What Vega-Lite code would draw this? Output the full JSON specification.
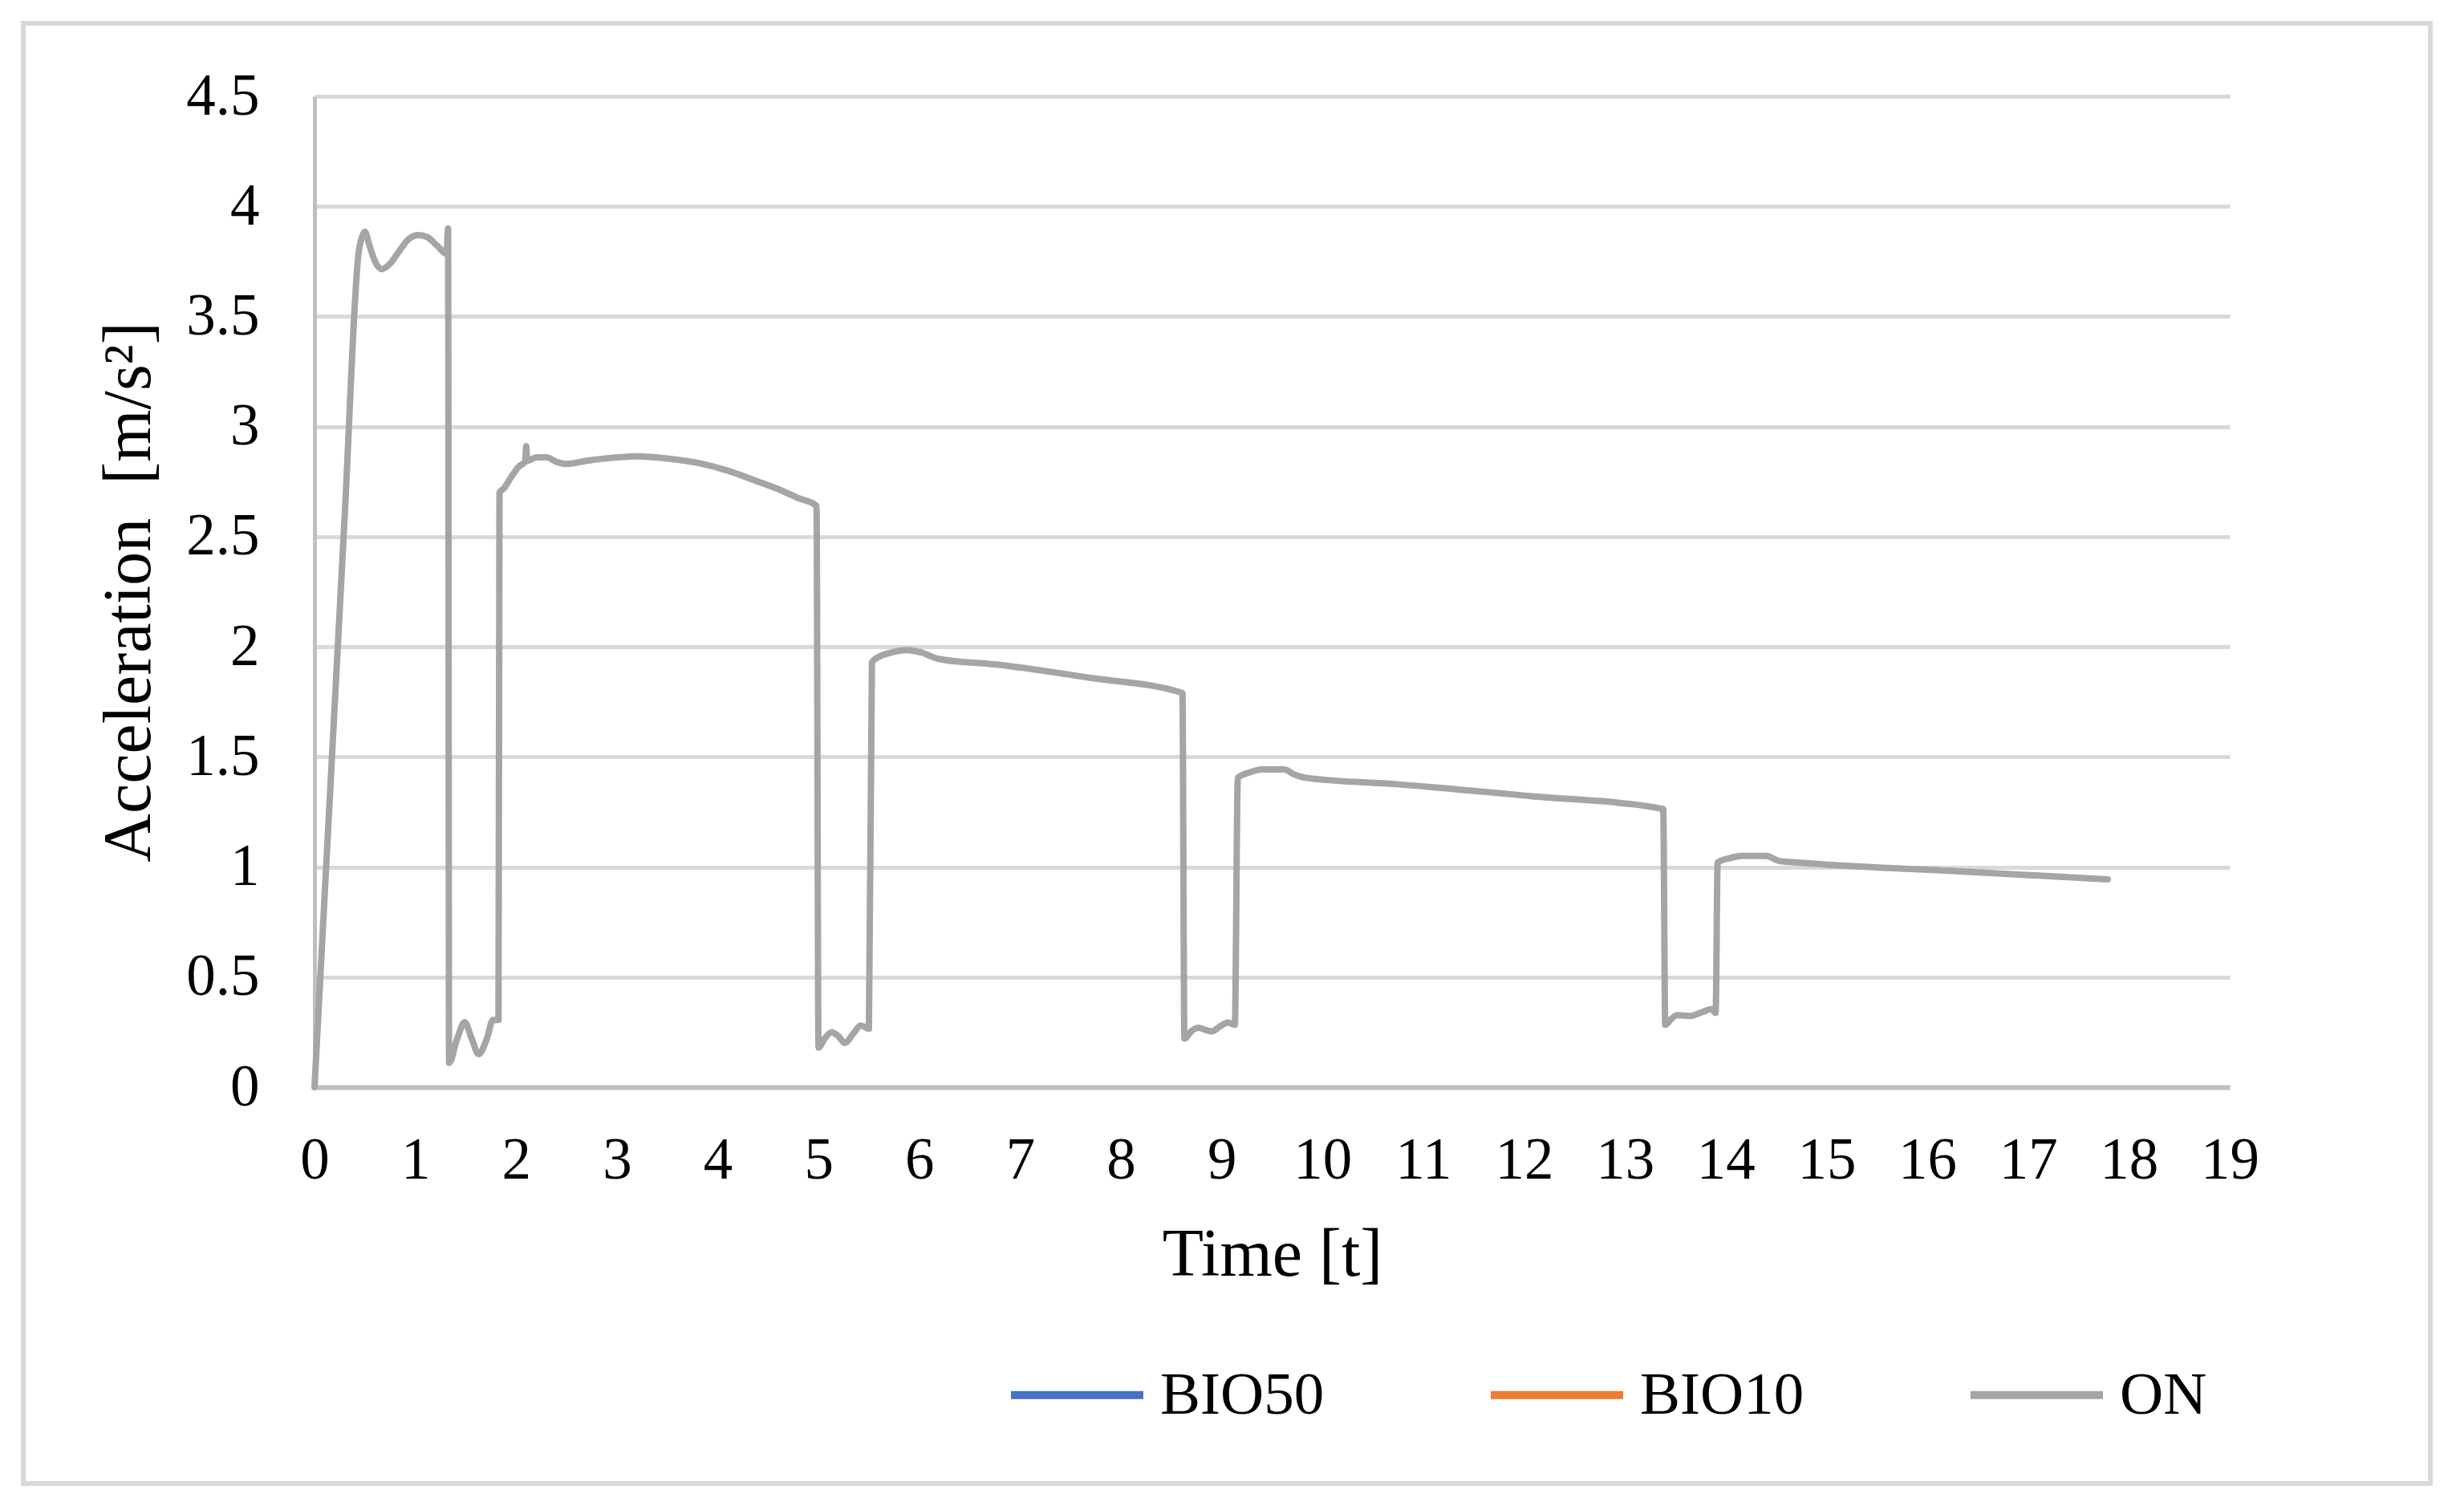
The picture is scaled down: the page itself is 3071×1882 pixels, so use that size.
{
  "$schema": "https://vega.github.io/schema/vega-lite/v6.json",
  "width": 3000,
  "height": 1820,
  "autosize": {"type": "none"},
  "padding": {"left": 29, "top": 29, "right": 42, "bottom": 33},
  "background": "white",
  "config": {
    "view": {"stroke": "#d9d9d9", "strokeWidth": 6},
    "font": "Liberation Serif"
  },
  "data": {
    "values": [
      {"t": 0, "a": 0, "s": "ON"},
      {"t": 0.15, "a": 1.3, "s": "ON"},
      {"t": 0.3, "a": 2.6, "s": "ON"},
      {"t": 0.44, "a": 3.8, "s": "ON"},
      {"t": 0.47, "a": 3.86, "s": "ON"},
      {"t": 0.5, "a": 3.885, "s": "ON"},
      {"t": 0.54, "a": 3.83, "s": "ON"},
      {"t": 0.6, "a": 3.75, "s": "ON"},
      {"t": 0.67, "a": 3.715, "s": "ON"},
      {"t": 0.75, "a": 3.74, "s": "ON"},
      {"t": 0.83, "a": 3.79, "s": "ON"},
      {"t": 0.93, "a": 3.85, "s": "ON"},
      {"t": 1.03, "a": 3.87, "s": "ON"},
      {"t": 1.12, "a": 3.86, "s": "ON"},
      {"t": 1.22, "a": 3.82, "s": "ON"},
      {"t": 1.31, "a": 3.785, "s": "ON"},
      {"t": 1.325, "a": 3.9, "s": "ON"},
      {"t": 1.335, "a": 0.11, "s": "ON"},
      {"t": 1.415, "a": 0.22, "s": "ON"},
      {"t": 1.49, "a": 0.295, "s": "ON"},
      {"t": 1.56, "a": 0.22, "s": "ON"},
      {"t": 1.627, "a": 0.15, "s": "ON"},
      {"t": 1.71, "a": 0.22, "s": "ON"},
      {"t": 1.77, "a": 0.305, "s": "ON"},
      {"t": 1.825, "a": 0.305, "s": "ON"},
      {"t": 1.835, "a": 2.7, "s": "ON"},
      {"t": 1.88, "a": 2.72, "s": "ON"},
      {"t": 1.95, "a": 2.77, "s": "ON"},
      {"t": 2.03, "a": 2.82, "s": "ON"},
      {"t": 2.09, "a": 2.84, "s": "ON"},
      {"t": 2.1, "a": 2.91, "s": "ON"},
      {"t": 2.11, "a": 2.845, "s": "ON"},
      {"t": 2.2, "a": 2.86, "s": "ON"},
      {"t": 2.3, "a": 2.86, "s": "ON"},
      {"t": 2.4, "a": 2.84, "s": "ON"},
      {"t": 2.5, "a": 2.83, "s": "ON"},
      {"t": 2.7, "a": 2.845, "s": "ON"},
      {"t": 3.0, "a": 2.86, "s": "ON"},
      {"t": 3.2, "a": 2.865, "s": "ON"},
      {"t": 3.5, "a": 2.855, "s": "ON"},
      {"t": 3.8, "a": 2.835, "s": "ON"},
      {"t": 4.1, "a": 2.8, "s": "ON"},
      {"t": 4.4, "a": 2.75, "s": "ON"},
      {"t": 4.63, "a": 2.71, "s": "ON"},
      {"t": 4.8, "a": 2.675, "s": "ON"},
      {"t": 4.98, "a": 2.64, "s": "ON"},
      {"t": 5.0, "a": 0.18, "s": "ON"},
      {"t": 5.06, "a": 0.22, "s": "ON"},
      {"t": 5.13, "a": 0.25, "s": "ON"},
      {"t": 5.2, "a": 0.23, "s": "ON"},
      {"t": 5.26, "a": 0.2, "s": "ON"},
      {"t": 5.34, "a": 0.24, "s": "ON"},
      {"t": 5.42, "a": 0.28, "s": "ON"},
      {"t": 5.5, "a": 0.265, "s": "ON"},
      {"t": 5.53, "a": 1.93, "s": "ON"},
      {"t": 5.6, "a": 1.955, "s": "ON"},
      {"t": 5.69, "a": 1.97, "s": "ON"},
      {"t": 5.88, "a": 1.985, "s": "ON"},
      {"t": 6.01, "a": 1.975, "s": "ON"},
      {"t": 6.19, "a": 1.945, "s": "ON"},
      {"t": 6.75, "a": 1.92, "s": "ON"},
      {"t": 7.68, "a": 1.86, "s": "ON"},
      {"t": 8.61, "a": 1.79, "s": "ON"},
      {"t": 8.63, "a": 0.22, "s": "ON"},
      {"t": 8.7, "a": 0.255, "s": "ON"},
      {"t": 8.77, "a": 0.27, "s": "ON"},
      {"t": 8.84, "a": 0.26, "s": "ON"},
      {"t": 8.9, "a": 0.253, "s": "ON"},
      {"t": 8.98, "a": 0.275, "s": "ON"},
      {"t": 9.06, "a": 0.293, "s": "ON"},
      {"t": 9.13, "a": 0.283, "s": "ON"},
      {"t": 9.16, "a": 1.405, "s": "ON"},
      {"t": 9.28, "a": 1.43, "s": "ON"},
      {"t": 9.4, "a": 1.443, "s": "ON"},
      {"t": 9.62, "a": 1.443, "s": "ON"},
      {"t": 9.72, "a": 1.42, "s": "ON"},
      {"t": 9.83, "a": 1.405, "s": "ON"},
      {"t": 10.73, "a": 1.376, "s": "ON"},
      {"t": 12.06, "a": 1.322, "s": "ON"},
      {"t": 13.38, "a": 1.263, "s": "ON"},
      {"t": 13.4, "a": 0.283, "s": "ON"},
      {"t": 13.46, "a": 0.31, "s": "ON"},
      {"t": 13.52, "a": 0.327, "s": "ON"},
      {"t": 13.65, "a": 0.323, "s": "ON"},
      {"t": 13.76, "a": 0.34, "s": "ON"},
      {"t": 13.86, "a": 0.354, "s": "ON"},
      {"t": 13.9, "a": 0.337, "s": "ON"},
      {"t": 13.92, "a": 1.02, "s": "ON"},
      {"t": 14.04, "a": 1.04, "s": "ON"},
      {"t": 14.16, "a": 1.05, "s": "ON"},
      {"t": 14.4, "a": 1.05, "s": "ON"},
      {"t": 14.53, "a": 1.027, "s": "ON"},
      {"t": 14.71, "a": 1.02, "s": "ON"},
      {"t": 16.25, "a": 0.982, "s": "ON"},
      {"t": 17.79, "a": 0.944, "s": "ON"}
    ]
  },
  "mark": {"type": "line", "strokeWidth": 8, "strokeJoin": "round", "strokeCap": "round", "interpolate": "monotone", "clip": true},
  "encoding": {
    "x": {
      "field": "t",
      "type": "quantitative",
      "scale": {"domain": [0, 19], "nice": false, "zero": false, "range": [363, 2750]},
      "axis": {
        "title": "Time [t]",
        "offset": -494,
        "values": [0, 1, 2, 3, 4, 5, 6, 7, 8, 9, 10, 11, 12, 13, 14, 15, 16, 17, 18, 19],
        "format": "d",
        "grid": false,
        "ticks": false,
        "domain": true,
        "domainColor": "#bfbfbf",
        "domainWidth": 6,
        "labelFont": "Liberation Serif",
        "labelFontSize": 73,
        "labelColor": "#000000",
        "labelPadding": 55,
        "labelFlush": false,
        "labelOverlap": false,
        "titleFont": "Liberation Serif",
        "titleFontSize": 84,
        "titleFontWeight": "normal",
        "titleColor": "#000000",
        "titlePadding": 40
      }
    },
    "y": {
      "field": "a",
      "type": "quantitative",
      "scale": {"domain": [0, 4.5], "nice": false, "range": [1326, 91]},
      "axis": {
        "title": "Acceleration \u00a0[m/s²]",
        "offset": -363,
        "values": [0, 0.5, 1, 1.5, 2, 2.5, 3, 3.5, 4, 4.5],
        "format": "~g",
        "grid": true,
        "gridColor": "#d9d9d9",
        "gridWidth": 5,
        "ticks": false,
        "domain": true,
        "domainColor": "#bfbfbf",
        "domainWidth": 5,
        "labelFont": "Liberation Serif",
        "labelFontSize": 73,
        "labelColor": "#000000",
        "labelPadding": 69,
        "labelFlush": false,
        "labelOverlap": false,
        "titleFont": "Liberation Serif",
        "titleFontSize": 84,
        "titleFontWeight": "normal",
        "titleColor": "#000000",
        "titlePadding": 27
      }
    },
    "color": {
      "field": "s",
      "type": "nominal",
      "scale": {"domain": ["BIO50", "BIO10", "ON"], "range": ["#4472c4", "#ed7d31", "#a5a5a5"]},
      "legend": {
        "title": null,
        "orient": "none",
        "direction": "horizontal",
        "legendX": 1226,
        "legendY": 1622,
        "symbolType": "stroke",
        "symbolSize": 27225,
        "symbolStrokeWidth": 10,
        "labelFont": "Liberation Serif",
        "labelFontSize": 75,
        "labelColor": "#000000",
        "labelOffset": 16,
        "labelLimit": 600,
        "columnPadding": 187
      }
    }
  }
}
